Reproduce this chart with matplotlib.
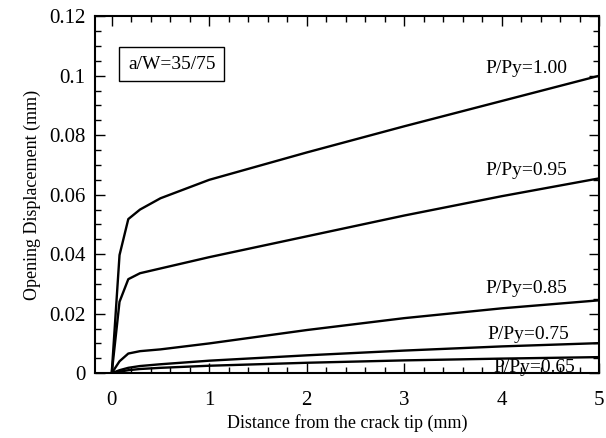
import numpy as np
import matplotlib.pyplot as plt
from matplotlib.ticker import MultipleLocator

plt.rcParams['font.family'] = ['Liberation Serif', 'DejaVu Serif']

# distance from crack tip (mm)
x = [0.0, 0.08, 0.17, 0.29, 0.5, 1.0, 2.0, 3.0, 4.0, 5.0]
# opening displacement (mm) for each load ratio
d100 = [0.0, 0.0397, 0.0518, 0.0550, 0.0588, 0.0650, 0.0742, 0.0830, 0.0915, 0.1000]
d095 = [0.0, 0.0240, 0.0316, 0.0336, 0.0352, 0.0390, 0.0460, 0.0530, 0.0595, 0.0655]
d085 = [0.0, 0.0040, 0.0066, 0.0074, 0.0080, 0.0100, 0.0145, 0.0185, 0.0218, 0.0245]
d075 = [0.0, 0.0010, 0.0018, 0.0024, 0.0030, 0.0042, 0.0060, 0.0076, 0.0090, 0.0101]
d065 = [0.0, 0.0005, 0.0010, 0.0014, 0.0018, 0.0025, 0.0035, 0.0043, 0.0049, 0.0054]

series = [d100, d095, d085, d075, d065]
labels = ['P/Py=1.00', 'P/Py=0.95', 'P/Py=0.85', 'P/Py=0.75', 'P/Py=0.65']
label_pos = [(4.67, 0.1025), (4.67, 0.068), (4.67, 0.0285), (4.69, 0.013), (4.75, 0.0018)]

fig = plt.figure(figsize=(6.06, 4.38), dpi=100)
ax = fig.add_axes([0.157, 0.148, 0.832, 0.815])

for d in series:
    ax.plot(x, d, color='black', lw=1.7)

for lab, (lx, ly) in zip(labels, label_pos):
    ax.text(lx, ly, lab, ha='right', va='center', fontsize=14)

ax.text(0.152, 0.866, 'a/W=35/75', transform=ax.transAxes, ha='center', va='center',
        fontsize=14, bbox=dict(boxstyle='square,pad=0.45', fc='white', ec='black', lw=1))

ax.set_xlim(-0.17, 5)
ax.set_ylim(0, 0.12)
ax.xaxis.set_major_locator(MultipleLocator(1))
ax.xaxis.set_minor_locator(MultipleLocator(0.2))
ax.yaxis.set_major_locator(MultipleLocator(0.02))
ax.yaxis.set_minor_locator(MultipleLocator(0.005))
ax.set_yticks([0, 0.02, 0.04, 0.06, 0.08, 0.1, 0.12])
ax.set_yticklabels(['0', '0.02', '0.04', '0.06', '0.08', '0.1', '0.12'])
ax.tick_params(which='both', direction='in', top=True, right=True, labelsize=15, width=1)
ax.tick_params(which='major', length=7, pad=7)
ax.tick_params(axis='x', which='major', pad=13)
ax.tick_params(which='minor', length=4)
for s in ax.spines.values():
    s.set_linewidth(1.5)

ax.set_xlabel('Distance from the crack tip (mm)', fontsize=13, labelpad=3)
ax.set_ylabel('Opening Displacement (mm)', fontsize=13, labelpad=6)

fig.savefig('out.png', dpi=100)
